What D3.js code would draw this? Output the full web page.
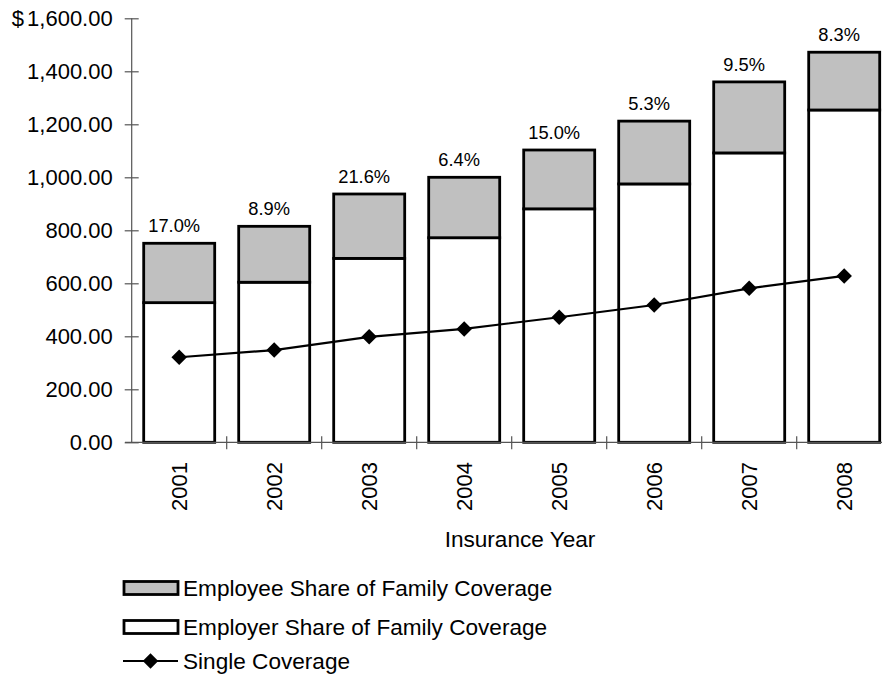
<!DOCTYPE html>
<html><head><meta charset="utf-8">
<script src="https://cdn.jsdelivr.net/npm/d3@7"></script>
<style>
html,body{margin:0;padding:0;background:#fff;}
svg{display:block;font-family:"Liberation Sans",Arial,sans-serif;}
</style></head>
<body>
<svg id="chart" width="882" height="674"></svg>
<script>
const years = ["2001","2002","2003","2004","2005","2006","2007","2008"];
const employerShare = [527, 604, 694, 772, 881, 975, 1092, 1254];
const employeeShare = [224, 211, 243, 228, 222, 237, 268, 218];
const singleCoverage = [321, 348, 398, 428, 472, 518, 581, 628];
const pctLabels = ["17.0%","8.9%","21.6%","6.4%","15.0%","5.3%","9.5%","8.3%"];
const yTicks = [0,200,400,600,800,1000,1200,1400,1600];
const legendLabels = ["Employee Share of Family Coverage","Employer Share of Family Coverage","Single Coverage"];

const svg = d3.select("#chart");
const x = d3.scaleBand().domain(years).range([131.7, 891.7]).paddingInner(24/95).paddingOuter(12/95);
const y = d3.scaleLinear().domain([0,1600]).range([442.3, 18.3]);
const axisColor = "#555";
const fmt = d3.format(",.2f");

// bars
const data = years.map((yr,i)=>({yr, emp:employerShare[i], ee:employeeShare[i], single:singleCoverage[i], pct:pctLabels[i]}));
const g = svg.append("g");
g.selectAll("rect.employer").data(data).join("rect")
  .attr("x", d=>x(d.yr)).attr("width", x.bandwidth())
  .attr("y", d=>y(d.emp)).attr("height", d=>y(0)-y(d.emp))
  .attr("fill","#fff").attr("stroke","#000").attr("stroke-width",2.8);
g.selectAll("rect.employee").data(data).join("rect")
  .attr("x", d=>x(d.yr)).attr("width", x.bandwidth())
  .attr("y", d=>y(d.emp+d.ee)).attr("height", d=>y(d.emp)-y(d.emp+d.ee))
  .attr("fill","#c0c0c0").attr("stroke","#000").attr("stroke-width",2.8);

// pct labels
g.selectAll("text.pct").data(data).join("text")
  .attr("x", d=>x(d.yr)+x.bandwidth()/2-5).attr("y", d=>y(d.emp+d.ee)-11)
  .attr("text-anchor","middle").attr("font-size",18.3).attr("fill","#000")
  .text(d=>d.pct);

// axes
const yAxis = d3.axisLeft(y).tickValues(yTicks).tickSize(7).tickFormat(d=>fmt(d));
const ya = svg.append("g").attr("transform","translate(131.7,0)").call(yAxis);
ya.select(".domain").attr("stroke",axisColor).attr("stroke-width",1.2).attr("d","M0,18.3V442.3");
ya.selectAll(".tick line").attr("x1",7).attr("stroke",axisColor).attr("stroke-width",1.2);
ya.selectAll(".tick text").attr("font-size",22).attr("font-family","Liberation Sans, Arial, sans-serif")
  .attr("fill","#000").attr("x",-19);
ya.append("text").attr("x",-120).attr("y",y(1600)).attr("dy","0.35em").attr("font-size",22)
  .attr("fill","#000").attr("text-anchor","start").text("$");

// x axis
const xa = svg.append("g");
xa.append("line").attr("x1",125).attr("x2",882).attr("y1",y(0)).attr("y2",y(0))
  .attr("stroke",axisColor).attr("stroke-width",1.2);
xa.selectAll("line.tk").data(years).join("line")
  .attr("x1", d=>x(d)+x.bandwidth()+12).attr("x2", d=>x(d)+x.bandwidth()+12)
  .attr("y1", y(0)-6).attr("y2", y(0)+7).attr("stroke",axisColor).attr("stroke-width",1.2);
xa.selectAll("text.yr").data(years).join("text")
  .attr("transform", d=>`translate(${x(d)+x.bandwidth()/2},462) rotate(-90)`)
  .attr("text-anchor","end").attr("dy","0.35em").attr("font-size",22).attr("fill","#000")
  .text(d=>d);
svg.append("text").attr("x",520).attr("y",547).attr("text-anchor","middle")
  .attr("font-size",22.6).attr("fill","#000").text("Insurance Year");

// single coverage line
const cx = d=>x(d.yr)+x.bandwidth()/2;
svg.append("path").datum(data)
  .attr("d", d3.line().x(cx).y(d=>y(d.single)))
  .attr("fill","none").attr("stroke","#000").attr("stroke-width",2.2);
const diamond = d3.symbol().type(d3.symbolSquare).size(120);
svg.selectAll("path.mk").data(data).join("path")
  .attr("transform", d=>`translate(${cx(d)},${y(d.single)}) rotate(45)`)
  .attr("d", diamond).attr("fill","#000");

// legend
const lg = svg.append("g");
lg.append("rect").attr("x",124).attr("y",581.5).attr("width",54).attr("height",13)
  .attr("fill","#c0c0c0").attr("stroke","#000").attr("stroke-width",2.8);
lg.append("rect").attr("x",124).attr("y",620.5).attr("width",54).attr("height",13)
  .attr("fill","#fff").attr("stroke","#000").attr("stroke-width",2.8);
lg.append("line").attr("x1",123).attr("x2",178).attr("y1",661).attr("y2",661)
  .attr("stroke","#000").attr("stroke-width",2.2);
lg.append("path").attr("transform","translate(150.5,661) rotate(45)").attr("d",diamond).attr("fill","#000");
const ly = [588, 627, 661];
lg.selectAll("text").data(legendLabels).join("text")
  .attr("x",183).attr("y",(d,i)=>ly[i]).attr("dy","0.35em").attr("font-size",22.6).attr("fill","#000")
  .text(d=>d);
</script>
</body></html>
